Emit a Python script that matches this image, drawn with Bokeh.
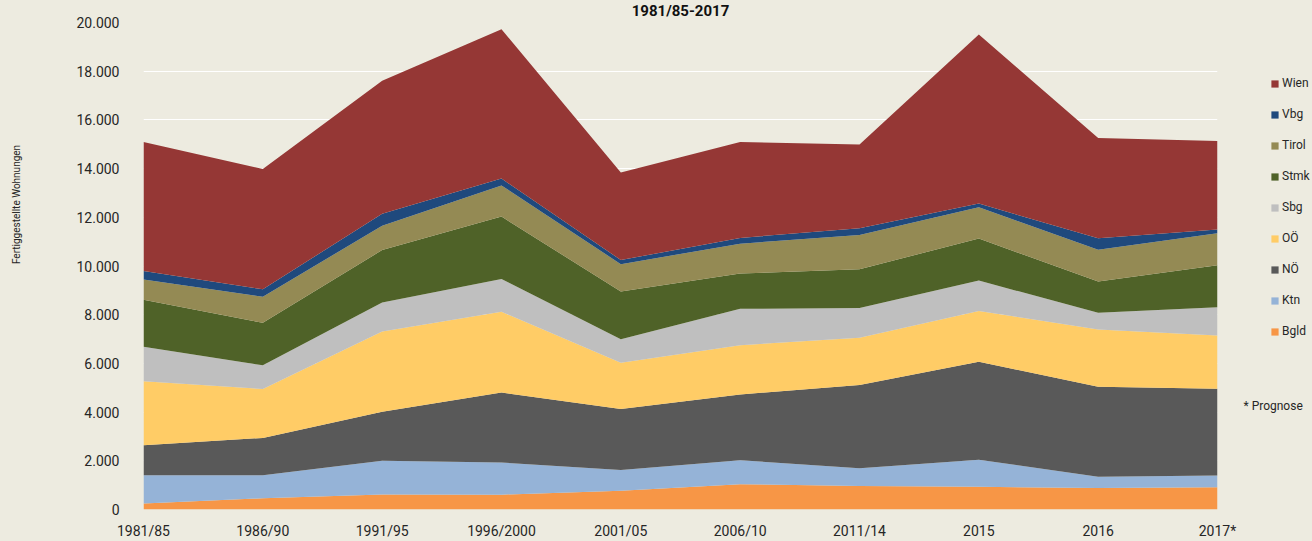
import math
from bokeh.plotting import figure
from bokeh.layouts import row
from bokeh.models import ColumnDataSource, FixedTicker, Legend, LegendItem, Label, Range1d
from bokeh.embed import file_html
from bokeh.resources import INLINE

# ---- data ----
periods = ["1981/85", "1986/90", "1991/95", "1996/2000", "2001/05",
           "2006/10", "2011/14", "2015", "2016", "2017*"]
bgld = [250, 460, 620, 610, 775, 1040, 970, 930, 885, 915]
ktn = [1160, 945, 1380, 1320, 845, 985, 720, 1110, 465, 480]
noe = [1225, 1535, 2010, 2870, 2505, 2700, 3420, 4025, 3690, 3560]
ooe = [2630, 2010, 3295, 3320, 1900, 2025, 1940, 2085, 2350, 2195]
sbg = [1420, 970, 1195, 1350, 970, 1490, 1225, 1250, 690, 1155]
stmk = [1930, 1745, 2155, 2560, 1955, 1450, 1590, 1730, 1280, 1730]
tirol = [830, 1070, 1000, 1280, 1125, 1225, 1410, 1280, 1310, 1310]
vbg = [350, 310, 490, 280, 170, 240, 280, 155, 465, 155]
wien = [5300, 4940, 5460, 6130, 3590, 3940, 3430, 6940, 4125, 3630]
series_names = ["Bgld", "Ktn", "NÖ", "OÖ", "Sbg", "Stmk", "Tirol", "Vbg", "Wien"]
series_values = [bgld, ktn, noe, ooe, sbg, stmk, tirol, vbg, wien]
y_ticks = list(range(0, 20001, 2000))
title_text = "1981/85-2017"
y_title = "Fertiggestellte Wohnungen"
note_text = "* Prognose"

# ---- styles ----
colors = ["#F79646", "#95B3D7", "#595959", "#FFCC66", "#BFBFBF",
          "#4F6228", "#948A54", "#1F497D", "#953735"]
BG = "#EDEBE0"
FONT = "Roboto"
TXT = "#262626"
H = 541
W_LEFT, W_MAIN, W_RIGHT = 40, 1200, 72
NAN = float("nan")


def blank_fig(w):
    f = figure(width=w, height=H, output_backend="svg", toolbar_location=None,
               x_range=Range1d(0, w), y_range=Range1d(0, H),
               x_axis_location=None, y_axis_location=None,
               min_border_left=0, min_border_right=0, min_border_top=0,
               min_border_bottom=0, background_fill_color=BG,
               border_fill_color=BG, outline_line_color=None)
    f.grid.visible = False
    return f


# ---- main chart ----
data = {"x": list(range(len(periods)))}
for n, v in zip(series_names, series_values):
    data[n] = v
source = ColumnDataSource(data)

p = figure(width=W_MAIN, height=H, output_backend="svg", toolbar_location=None,
           x_range=Range1d(0, len(periods) - 1), y_range=Range1d(0, 20000),
           min_border_left=103, min_border_right=23, min_border_top=21,
           min_border_bottom=30,
           background_fill_color=BG, border_fill_color=BG, outline_line_color=None)

p.varea_stack(stackers=series_names, x="x", color=colors, source=source)

p.title.text = title_text
p.title.align = "center"
p.title.vertical_align = "top"
p.title.standoff = 2
p.title.text_font = FONT
p.title.text_font_size = "15px"
p.title.text_font_style = "bold"
p.title.text_color = "#111111"

p.xaxis.ticker = FixedTicker(ticks=list(range(len(periods))))
p.xaxis.major_label_overrides = {i: s for i, s in enumerate(periods)}
p.yaxis.ticker = FixedTicker(ticks=y_ticks)
p.yaxis.major_label_overrides = {t: f"{t:,}".replace(",", ".") for t in y_ticks}
for ax in (p.xaxis, p.yaxis):
    ax.axis_line_color = None
    ax.major_tick_line_color = None
    ax.minor_tick_line_color = None
    ax.major_tick_out = 0
    ax.major_tick_in = 0
    ax.minor_tick_out = 0
    ax.minor_tick_in = 0
    ax.major_label_text_font = FONT
    ax.major_label_text_font_size = "14px"
    ax.major_label_text_color = TXT
p.xaxis.major_label_standoff = 13
p.yaxis.major_label_standoff = 24

p.xgrid.grid_line_color = None
p.ygrid.grid_line_color = "white"
p.ygrid.grid_line_width = 1.2

# ---- left strip: y-axis title ----
left = blank_fig(W_LEFT)
left.add_layout(Label(x=16, y=305, x_units="screen", y_units="screen", text=y_title,
                      angle=math.pi / 2, text_font=FONT, text_font_size="10px",
                      text_align="center", text_baseline="middle", text_color=TXT))

# ---- right strip: legend and note ----
right = blank_fig(W_RIGHT)
swatches = []
for n, c in zip(series_names, colors):
    r = right.quad(left=[NAN], right=[NAN], top=[NAN], bottom=[NAN],
                   fill_color=c, line_color=None)
    swatches.append(LegendItem(label=n, renderers=[r]))
swatches.reverse()
legend = Legend(items=swatches, location=(30, 171), orientation="vertical",
                glyph_width=9, glyph_height=9, label_height=9, label_standoff=3,
                spacing=17, padding=0, margin=0,
                label_text_font=FONT, label_text_font_size="12px",
                label_text_color=TXT, background_fill_alpha=0,
                border_line_color=None)
right.add_layout(legend)
right.add_layout(Label(x=3, y=104, x_units="screen", y_units="screen", text=note_text,
                       text_font=FONT, text_font_size="12px", text_align="left",
                       text_baseline="middle", text_color=TXT))

layout = row(left, p, right, spacing=0, styles={"background-color": BG})
open("out.html", "w").write(file_html(layout, INLINE))
